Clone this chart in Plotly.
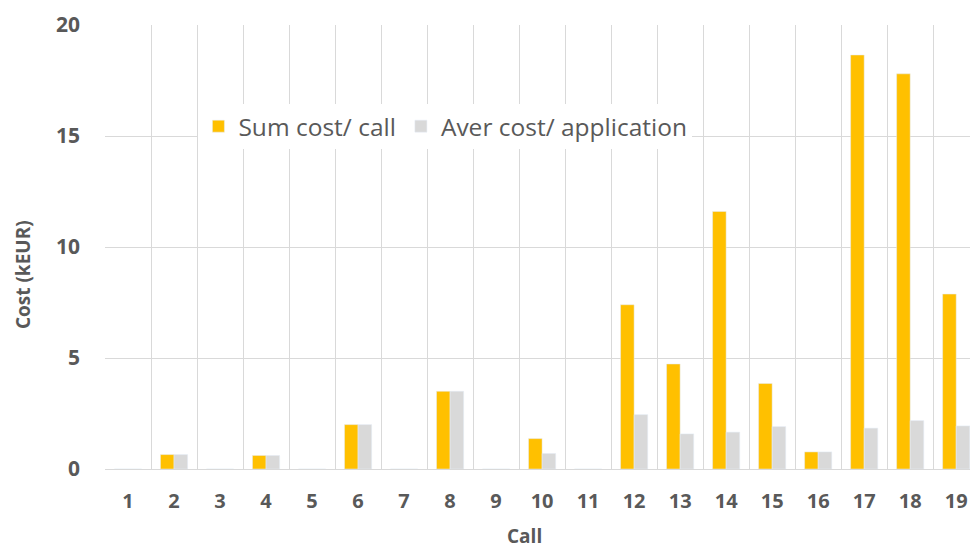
import plotly.graph_objects as go

calls = [str(i) for i in range(1, 20)]
sum_cost = [0, 0.65, 0, 0.61, 0, 2.0, 0, 3.5, 0, 1.37, 0, 7.4, 4.73, 11.6, 3.85, 0.77, 18.65, 17.8, 7.88]
aver_cost = [0, 0.65, 0, 0.61, 0, 2.0, 0, 3.5, 0, 0.70, 0, 2.45, 1.58, 1.66, 1.91, 0.77, 1.84, 2.18, 1.94]
y_ticks = [0, 5, 10, 15, 20]
x_title = "Call"
y_title = "Cost (kEUR)"

font_family = "Open Sans, sans-serif"
txt = "#595959"

fig = go.Figure()
fig.add_trace(go.Bar(x=calls, y=sum_cost, name="Sum cost/ call", marker_color="#FFC000"))
fig.add_trace(go.Bar(x=calls, y=aver_cost, name="Aver cost/ application", marker_color="#D9D9D9"))

fig.update_layout(
    width=970, height=546,
    margin=dict(l=105, r=0, t=25, b=77),
    paper_bgcolor="white", plot_bgcolor="white",
    barmode="group", bargap=0.41, bargroupgap=0,
    font=dict(family=font_family, color=txt),
    legend=dict(
        orientation="h", x=0.108, y=0.772, xanchor="left", yanchor="middle",
        bgcolor="white", font=dict(size=24.5, color=txt, family=font_family),
        itemwidth=30, traceorder="normal",
    ),
    showlegend=True,
    annotations=[
        dict(text=y_title, xref="paper", yref="paper", x=-0.0948, y=0.439,
             xanchor="center", yanchor="middle", textangle=-90, showarrow=False,
             font=dict(size=19, color=txt, family=font_family, weight="bold")),
        dict(text=x_title, xref="paper", yref="paper", x=0.4844, y=-0.152,
             xanchor="center", yanchor="middle", showarrow=False,
             font=dict(size=19, color=txt, family=font_family, weight="bold")),
    ],
)
fig.update_xaxes(
    type="category", range=[-0.5, 18.3], tickson="boundaries", automargin=False,
    showgrid=True, gridcolor="#D9D9D9", gridwidth=1,
    showline=True, linecolor="#D9D9D9", linewidth=1,
    ticks="", ticklabelstandoff=14,
    tickfont=dict(size=20, color=txt, family=font_family, weight="bold"),
)
fig.update_yaxes(
    range=[0, 20], tickvals=y_ticks, automargin=False,
    showgrid=True, gridcolor="#D9D9D9", gridwidth=1, zeroline=False,
    ticks="", ticklabelstandoff=24,
    tickfont=dict(size=21, color=txt, family=font_family, weight="bold"),
)

fig.write_html(
    "out.html",
    config={"displayModeBar": False},
    post_script="document.body.style.margin='0';document.body.style.overflow='hidden';",
)
